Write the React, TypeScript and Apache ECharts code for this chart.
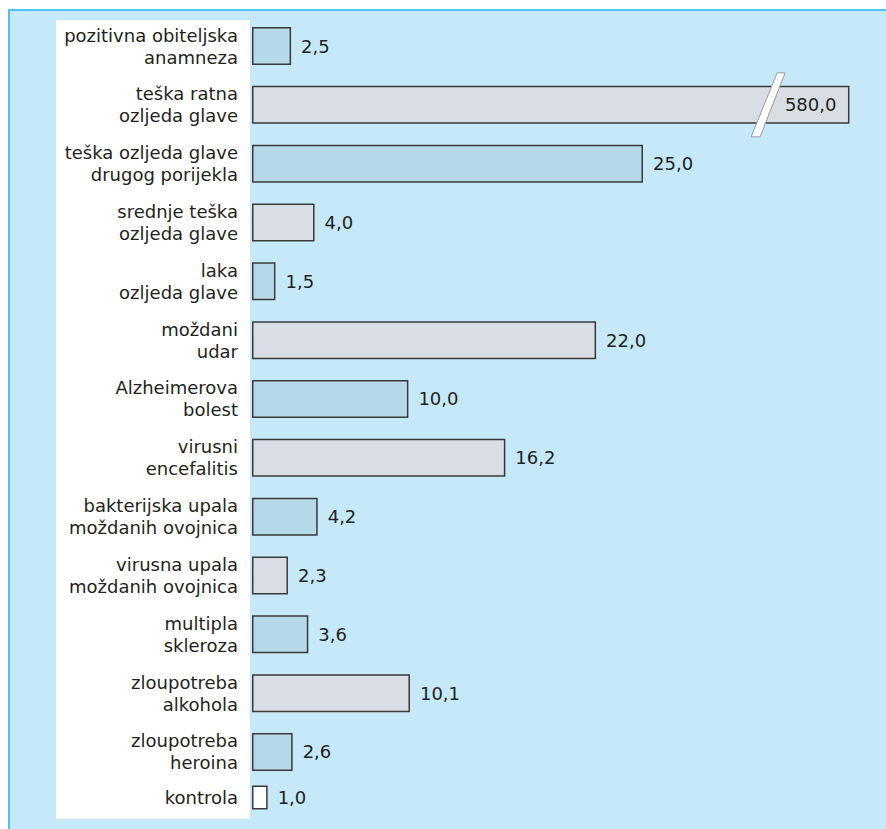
import React, { useEffect, useRef } from "react";
import * as echarts from "echarts";

// ---- data ----
const categories = [
  "pozitivna obiteljska\nanamneza",
  "teška ratna\nozljeda glave",
  "teška ozljeda glave\ndrugog porijekla",
  "srednje teška\nozljeda glave",
  "laka\nozljeda glave",
  "moždani\nudar",
  "Alzheimerova\nbolest",
  "virusni\nencefalitis",
  "bakterijska upala\nmoždanih ovojnica",
  "virusna upala\nmoždanih ovojnica",
  "multipla\nskleroza",
  "zloupotreba\nalkohola",
  "zloupotreba\nheroina",
];
const values = [2.5, 580.0, 25.0, 4.0, 1.5, 22.0, 10.0, 16.2, 4.2, 2.3, 3.6, 10.1, 2.6];
const controlCategory = ["kontrola"];
const controlValues = [1.0];
// broken-axis settings: very long bar is drawn capped, with a break mark
const displayCap = 38.2;
const breakAt = 33;

const BLUE = "#b6d9ea";
const GREY = "#d8dee4";
const EDGE = "#3a3a3a";
const TEXT = "#231f20";
const FONT = "'DejaVu Sans', sans-serif";

const fmt = (v: number) => v.toFixed(1).replace(".", ",");

export default function App() {
  const ref = useRef<HTMLDivElement>(null);
  useEffect(() => {
    if (!ref.current) return;
    const chart = echarts.init(ref.current, null, { renderer: "svg" });
    const gridLeft = 252;
    const xMax = 40;
    const pxPerUnit = 15.64;
    const gridRight = 886 - gridLeft - xMax * pxPerUnit;
    const pitch = 58.83;
    const g1Top = 46 - pitch / 2;
    const g1Height = pitch * categories.length;

    const labelCommon = {
      fontSize: 18,
      lineHeight: 22,
      color: TEXT,
      fontFamily: FONT,
      align: "right" as const,
      margin: 14,
    };

    const valueLabel = {
      show: true,
      position: "right",
      distance: 10,
      fontSize: 18,
      fontFamily: FONT,
      color: TEXT,
    };

    chart.setOption({
      animation: false,
      graphic: [
        { type: "rect", z: -10, silent: true, shape: { x: 8, y: 9, width: 878, height: 820 }, style: { fill: "#c6e9f9" } },
        { type: "line", z: -9, silent: true, shape: { x1: 8, y1: 10, x2: 886, y2: 10 }, style: { stroke: "#4fc3f0", lineWidth: 2 } },
        { type: "line", z: -9, silent: true, shape: { x1: 9, y1: 9, x2: 9, y2: 829 }, style: { stroke: "#4fc3f0", lineWidth: 2 } },
        { type: "rect", z: -8, silent: true, shape: { x: 56, y: 20, width: 194, height: 799 }, style: { fill: "#ffffff" } },
      ],
      grid: [
        { left: gridLeft, right: gridRight, top: g1Top, height: g1Height },
        { left: gridLeft, right: gridRight, top: g1Top + g1Height, height: 32 },
      ],
      xAxis: [
        { type: "value", gridIndex: 0, min: 0, max: xMax, show: false },
        { type: "value", gridIndex: 1, min: 0, max: xMax, show: false },
      ],
      yAxis: [
        {
          type: "category",
          gridIndex: 0,
          inverse: true,
          data: categories,
          axisLine: { show: false },
          axisTick: { show: false },
          splitLine: { show: false },
          axisLabel: labelCommon,
        },
        {
          type: "category",
          gridIndex: 1,
          inverse: true,
          data: controlCategory,
          axisLine: { show: false },
          axisTick: { show: false },
          splitLine: { show: false },
          axisLabel: labelCommon,
        },
      ],
      series: [
        {
          type: "bar",
          xAxisIndex: 0,
          yAxisIndex: 0,
          barWidth: 38,
          data: values.map((v, i) => ({
            value: Math.min(v, displayCap),
            itemStyle: { color: i % 2 === 0 ? BLUE : GREY },
            label:
              v > displayCap
                ? { position: "insideRight", distance: 13 }
                : undefined,
          })),
          itemStyle: { borderColor: EDGE, borderWidth: 1.5 },
          label: {
            ...valueLabel,
            formatter: (p: any) => fmt(values[p.dataIndex]),
          },
        },
        {
          type: "custom",
          xAxisIndex: 0,
          yAxisIndex: 0,
          z: 5,
          data: values
            .map((v, i) => [v, i])
            .filter((d) => d[0] > displayCap)
            .map((d) => [breakAt, d[1]]),
          renderItem: (params: any, api: any) => {
            const c = api.coord([api.value(0), api.value(1)]);
            const x = c[0];
            const y = c[1];
            return {
              type: "polygon",
              shape: {
                points: [
                  [x + 9, y - 32],
                  [x + 17, y - 32],
                  [x - 8, y + 32],
                  [x - 17, y + 32],
                ],
              },
              style: { fill: "#ffffff", stroke: "#9a9a9a", lineWidth: 1 },
            };
          },
        },
        {
          type: "bar",
          xAxisIndex: 1,
          yAxisIndex: 1,
          barWidth: 24,
          data: controlValues,
          itemStyle: { color: "#ffffff", borderColor: EDGE, borderWidth: 1.5 },
          label: {
            ...valueLabel,
            formatter: (p: any) => fmt(controlValues[p.dataIndex]),
          },
        },
      ],
    });
    return () => chart.dispose();
  }, []);
  return (
    <div
      ref={ref}
      style={{ position: "absolute", left: 0, top: 0, width: 886, height: 829 }}
    />
  );
}
